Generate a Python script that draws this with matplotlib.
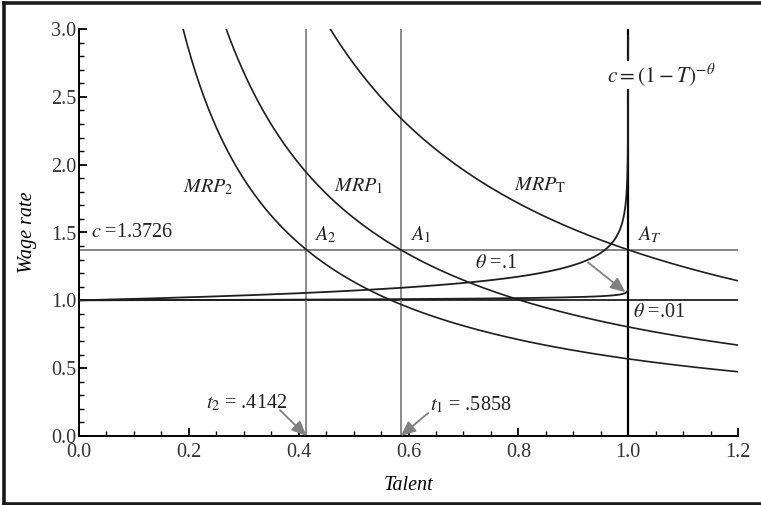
import numpy as np
import matplotlib
matplotlib.use("Agg")
import matplotlib.pyplot as plt
from matplotlib.lines import Line2D
from matplotlib.ticker import MultipleLocator, FormatStrFormatter

# ---- data ----
wage_c = 1.3726                     # horizontal wage line c
t_cuts = [0.4142, 0.5858]           # t2, t1 vertical lines
mrp_names = [r"$MRP_2$", r"$MRP_1$", r"$MRP_{\mathrm{T}}$"]
mrp_scale = [0.5686, 0.8041, 1.3726]   # MRP_i(t) = scale / t, passes through A_i
thetas = [0.1, 0.01]
theta_Tmax = [0.99998, 0.999]
x_ticks = [0.0, 0.2, 0.4, 0.6, 0.8, 1.0, 1.2]
y_ticks = [0.0, 0.5, 1.0, 1.5, 2.0, 2.5, 3.0]

plt.rcParams['font.family'] = ['Liberation Serif', 'DejaVu Serif']
plt.rcParams['mathtext.fontset'] = 'stix'

W, H = 761, 505
fig = plt.figure(figsize=(W / 100, H / 100), dpi=100)
ax = fig.add_axes([79 / W, 1 - 436 / H, (738 - 79) / W, (436 - 29) / H])

dark = '#1e1e1e'
grey = '#8a8a8a'

# reference lines
ax.axhline(wage_c, color='#7a7a7a', lw=1.3, zorder=1)
ax.axhline(1.0, color='#202020', lw=1.3, zorder=1)
for t in t_cuts:
    ax.axvline(t, color=grey, lw=1.4, zorder=1)
ax.axvline(1.0, color='black', lw=1.6, zorder=2)

# MRP curves
for k in mrp_scale:
    t = np.linspace(k / 3.0, 1.2, 400)
    ax.plot(t, k / t, color=dark, lw=1.2, zorder=3)

# c = (1 - T)^-theta curves
for th, tmax in zip(thetas, theta_Tmax):
    T = 1 - np.geomspace(1.0, 1 - tmax, 600)
    ax.plot(T, (1 - T) ** (-th), color=dark, lw=1.3, zorder=3)

ax.set_xlim(0, 1.2)
ax.set_ylim(0, 3.0)
ax.set_xticks(x_ticks)
ax.set_yticks(y_ticks)
ax.xaxis.set_minor_locator(MultipleLocator(0.05))
ax.yaxis.set_minor_locator(MultipleLocator(0.1))
ax.xaxis.set_major_formatter(FormatStrFormatter('%.1f'))
ax.yaxis.set_major_formatter(FormatStrFormatter('%.1f'))
for s in ['top', 'right']:
    ax.spines[s].set_visible(False)
for s in ['left', 'bottom']:
    ax.spines[s].set_linewidth(1.4)
ax.tick_params(which='major', direction='in', length=6, width=1.3, labelsize=14.5,
               colors='black')
ax.tick_params(which='minor', direction='in', length=3.5, width=1.0)
ax.tick_params(axis='both', labelcolor='#333333')
ax.tick_params(axis='x', pad=5)
ax.tick_params(axis='y', pad=2)

ax.set_xlabel('Talent', fontsize=14.5, style='italic', labelpad=10)
ax.set_ylabel('Wage rate', fontsize=14.5, style='italic', labelpad=10)

fs = 14.5
txt = dict(fontsize=fs, ha='center', va='center', color='#222222')
ax.text(0.235, 1.835, mrp_names[0], **txt)
ax.text(0.51, 1.84, mrp_names[1], **txt)
ax.text(0.84, 1.85, mrp_names[2], **txt)
ax.text(0.448, 1.48, r"$A_2$", **txt)
ax.text(0.621, 1.48, r"$A_1$", **txt)
ax.text(1.038, 1.48, r"$A_T$", **txt)
ax.text(0.097, 1.50, r"$c$ =1.3726", **txt)
ax.text(1.056, 0.91, r"$\theta$ =.01", **txt)
ax.text(0.759, 1.27, r"$\theta$ =.1", **txt)
ax.text(0.306, 0.245, r"$t_2$ = .4142", **txt)
ax.text(0.714, 0.23, r"$t_1$ = .5858", **txt)
ax.text(0.962, 2.66, r"$c = (1 - T)^{-\theta}$", fontsize=fs + 1, ha='left', va='center',
        color='#222222', zorder=5,
        bbox=dict(facecolor='white', edgecolor='none', pad=0.5))

arrow = dict(arrowstyle='-|>,head_length=0.5,head_width=0.22', color='#808080',
             lw=1.3, mutation_scale=18, shrinkA=0, shrinkB=0)
ax.annotate("", xy=(0.995, 1.06), xytext=(0.927, 1.28), arrowprops=arrow)
ax.annotate("", xy=(0.4142, 0.0), xytext=(0.366, 0.19), arrowprops=arrow)
ax.annotate("", xy=(0.5858, 0.0), xytext=(0.636, 0.17), arrowprops=arrow)

# outer frame (left, top, bottom edges; right edge is cut off in the reference)
fc = '#1a1a1a'
for (x0, y0, x1, y1) in [(4, 2.5, 4, 503.5), (4, 2.5, W + 5, 2.5), (4, 503.5, W + 5, 503.5)]:
    fig.add_artist(Line2D([x0 / W, x1 / W], [1 - y0 / H, 1 - y1 / H],
                          transform=fig.transFigure, color=fc, lw=2.6,
                          solid_capstyle='projecting'))

fig.savefig('out.png', dpi=100)
